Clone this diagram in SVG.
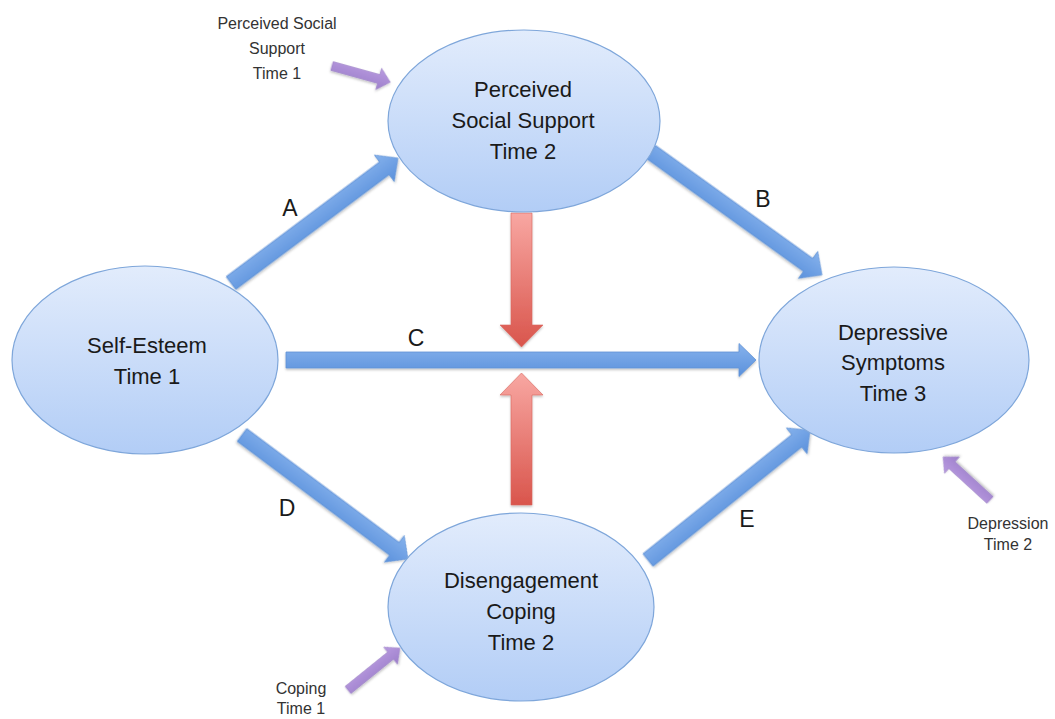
<svg xmlns="http://www.w3.org/2000/svg" width="1055" height="719" viewBox="0 0 1055 719">
  <defs>
    <linearGradient id="gNode" x1="0" y1="0" x2="0" y2="1">
      <stop offset="0" stop-color="#e2ecfc"/>
      <stop offset="1" stop-color="#b2cdf6"/>
    </linearGradient>
    <linearGradient id="gBlue" x1="0" y1="0" x2="0" y2="1">
      <stop offset="0" stop-color="#86b2ec"/>
      <stop offset="1" stop-color="#5b91dc"/>
    </linearGradient>
    <linearGradient id="gRed" x1="0" y1="0" x2="0" y2="1">
      <stop offset="0" stop-color="#f8a7a2"/>
      <stop offset="1" stop-color="#d9554c"/>
    </linearGradient>
    <linearGradient id="gPurple" x1="0" y1="0" x2="0" y2="1">
      <stop offset="0" stop-color="#b99be0"/>
      <stop offset="1" stop-color="#9d7fcb"/>
    </linearGradient>
    <filter id="shadow" x="-10%" y="-10%" width="120%" height="130%">
      <feDropShadow dx="0" dy="1.5" stdDeviation="1.2" flood-color="#000" flood-opacity="0.25"/>
    </filter>
  </defs>
  <style>
    .node { fill: url(#gNode); stroke: #7ea6da; stroke-width: 1.2; }
    .ntext { font-family: "Liberation Sans", "Open Sans", Arial, sans-serif; font-size: 22px; fill: #1a1a1a; text-anchor: middle; }
    .small { font-family: "Liberation Sans", "Open Sans", Arial, sans-serif; font-size: 16px; fill: #333; text-anchor: middle; }
    .lbl { font-family: "Liberation Sans", "Open Sans", Arial, sans-serif; font-size: 23px; fill: #1a1a1a; text-anchor: middle; }
    .blue { fill: url(#gBlue); stroke: #5f92d6; stroke-width: 0.8; filter: url(#shadow); }
    .red { fill: url(#gRed); stroke: #d9655c; stroke-width: 0.6; filter: url(#shadow); }
    .purple { fill: url(#gPurple); stroke: #9a80c6; stroke-width: 0.6; filter: url(#shadow); }
  </style>

  <rect x="0" y="0" width="1055" height="719" fill="#ffffff"/>

  <g id="connectors">
    <!-- A -->
    <polygon class="blue" transform="translate(231,283) rotate(-36.8)" points="0,-8 191.6,-8 191.6,-16.5 208.6,0 191.6,16.5 191.6,8 0,8"/>
    <!-- B -->
    <polygon class="blue" transform="translate(651,152) rotate(35.7)" points="0,-8 193.6,-8 193.6,-16.5 210.6,0 193.6,16.5 193.6,8 0,8"/>
    <!-- C -->
    <polygon class="blue" transform="translate(286,360)" points="0,-8 453,-8 453,-16.5 470,0 453,16.5 453,8 0,8"/>
    <!-- D -->
    <polygon class="blue" transform="translate(242,435) rotate(36.76)" points="0,-8 190.2,-8 190.2,-16.5 207.2,0 190.2,16.5 190.2,8 0,8"/>
    <!-- E -->
    <polygon class="blue" transform="translate(648,560) rotate(-38.7)" points="0,-8 190.7,-8 190.7,-16.5 207.7,0 190.7,16.5 190.7,8 0,8"/>
    <!-- red moderators -->
    <polygon class="red" points="511,213 532,213 532,325 543,325 521.5,347 500,325 511,325"/>
    <polygon class="red" points="521.5,373 543,395 532,395 532,505 511,505 511,395 500,395"/>
    <!-- purple covariates -->
    <polygon class="purple" transform="translate(332,66) rotate(15.5)" points="0,-4.5 48.5,-4.5 48.5,-11 60.5,0 48.5,11 48.5,4.5 0,4.5"/>
    <polygon class="purple" transform="translate(348,690) rotate(-38.9)" points="0,-4.5 54.8,-4.5 54.8,-11 66.8,0 54.8,11 54.8,4.5 0,4.5"/>
    <polygon class="purple" transform="translate(990,500) rotate(-137.5)" points="0,-4.5 51.7,-4.5 51.7,-11 63.7,0 51.7,11 51.7,4.5 0,4.5"/>
    <!-- path labels -->
    <text class="lbl" x="290" y="216">A</text>
    <text class="lbl" x="763" y="207">B</text>
    <text class="lbl" x="416" y="346">C</text>
    <text class="lbl" x="287" y="516">D</text>
    <text class="lbl" x="747" y="527">E</text>
  </g>

  <g id="node-self-esteem">
    <ellipse class="node" cx="145" cy="360" rx="133" ry="94"/>
    <text class="ntext" x="147" y="353">Self-Esteem</text>
    <text class="ntext" x="147" y="384">Time 1</text>
  </g>

  <g id="node-social-support">
    <ellipse class="node" cx="524" cy="121" rx="136" ry="91"/>
    <text class="ntext" x="523" y="97">Perceived</text>
    <text class="ntext" x="523" y="128">Social Support</text>
    <text class="ntext" x="523" y="159">Time 2</text>
  </g>

  <g id="node-depressive">
    <ellipse class="node" cx="894" cy="360" rx="135" ry="93"/>
    <text class="ntext" x="893" y="340">Depressive</text>
    <text class="ntext" x="893" y="370">Symptoms</text>
    <text class="ntext" x="893" y="401">Time 3</text>
  </g>

  <g id="node-disengagement">
    <ellipse class="node" cx="521" cy="607" rx="133" ry="94"/>
    <text class="ntext" x="521" y="588">Disengagement</text>
    <text class="ntext" x="521" y="619">Coping</text>
    <text class="ntext" x="521" y="650">Time 2</text>
  </g>

  <g id="label-pss-t1">
    <text class="small" x="277" y="29">Perceived Social</text>
    <text class="small" x="277" y="54">Support</text>
    <text class="small" x="277" y="79">Time 1</text>
  </g>

  <g id="label-coping-t1">
    <text class="small" x="301" y="694">Coping</text>
    <text class="small" x="301" y="714">Time 1</text>
  </g>

  <g id="label-depression-t2">
    <text class="small" x="1008" y="529">Depression</text>
    <text class="small" x="1008" y="550">Time 2</text>
  </g>
</svg>
